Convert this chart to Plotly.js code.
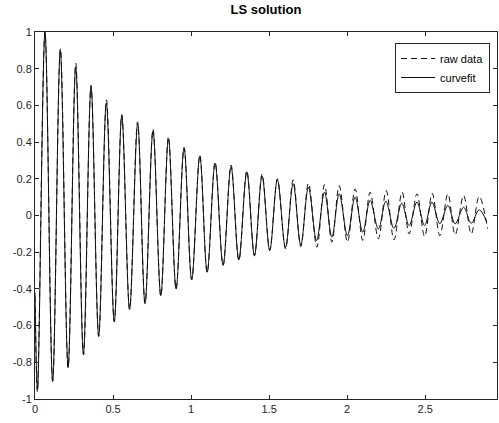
<!DOCTYPE html>
<html>
<head>
<meta charset="utf-8">
<script src="https://cdn.plot.ly/plotly-3.0.1.min.js"></script>
<style>
html,body{margin:0;padding:0;background:#fff;}
#chart{width:499px;height:423px;}
</style>
</head>
<body>
<div id="chart"></div>
<script>
// Curve-fit series: start, then alternating extrema
const tFit = [0, 0.016, 0.064, 0.113, 0.162, 0.212, 0.261, 0.310, 0.359, 0.408, 0.457,
  0.508, 0.556, 0.606, 0.658, 0.705, 0.756, 0.806, 0.855, 0.904, 0.955,
  1.004, 1.056, 1.103, 1.154, 1.205, 1.256, 1.306, 1.357, 1.406, 1.455,
  1.504, 1.553, 1.605, 1.654, 1.703, 1.752, 1.804, 1.855, 1.902, 1.949,
  2.002, 2.051, 2.100, 2.147, 2.200, 2.248, 2.300, 2.350, 2.397, 2.447,
  2.496, 2.543, 2.594, 2.645, 2.692, 2.746, 2.795, 2.846, 2.895];
const yFit = [-0.42, -0.95, 1.00, -0.905, 0.90, -0.827, 0.81, -0.754, 0.70, -0.657, 0.614,
  -0.578, 0.545, -0.512, 0.50, -0.478, 0.46, -0.436, 0.418, -0.40, 0.369,
  -0.35, 0.323, -0.309, 0.285, -0.272, 0.267, -0.242, 0.236, -0.218, 0.216,
  -0.19, 0.195, -0.175, 0.173, -0.16, 0.154, -0.136, 0.127, -0.118, 0.118,
  -0.109, 0.10, -0.091, 0.082, -0.073, 0.078, -0.07, 0.067, -0.055, 0.073,
  -0.055, 0.073, -0.045, 0.055, -0.045, 0.045, -0.042, 0.031, -0.036];

// Raw data series: same sampling of extrema
const tRaw = [0, 0.015, 0.064, 0.113, 0.163, 0.212, 0.261, 0.311, 0.359, 0.408, 0.458,
  0.508, 0.556, 0.606, 0.657, 0.705, 0.756, 0.806, 0.855, 0.904, 0.955,
  1.004, 1.056, 1.103, 1.154, 1.205, 1.256, 1.306, 1.357, 1.406, 1.455,
  1.504, 1.553, 1.605, 1.654, 1.703, 1.752, 1.806, 1.855, 1.902, 1.949,
  2.002, 2.051, 2.100, 2.147, 2.200, 2.250, 2.300, 2.352, 2.397, 2.447,
  2.496, 2.545, 2.594, 2.645, 2.692, 2.746, 2.795, 2.846, 2.900];
const yRaw = [-0.44, -0.96, 1.00, -0.90, 0.91, -0.83, 0.83, -0.76, 0.71, -0.66, 0.63,
  -0.58, 0.55, -0.51, 0.51, -0.48, 0.47, -0.44, 0.43, -0.40, 0.37,
  -0.35, 0.33, -0.31, 0.29, -0.27, 0.275, -0.245, 0.245, -0.22, 0.225,
  -0.19, 0.20, -0.182, 0.195, -0.17, 0.176, -0.173, 0.169, -0.145, 0.163,
  -0.145, 0.145, -0.136, 0.127, -0.127, 0.136, -0.133, 0.127, -0.10, 0.118,
  -0.114, 0.12, -0.11, 0.118, -0.105, 0.109, -0.10, 0.104, -0.073];

const xTickVals = [0, 0.5, 1, 1.5, 2, 2.5];
const xTickText = ['0', '0.5', '1', '1.5', '2', '2.5'];
const yTickVals = [-1, -0.8, -0.6, -0.4, -0.2, 0, 0.2, 0.4, 0.6, 0.8, 1];
const yTickText = ['-1', '-0.8', '-0.6', '-0.4', '-0.2', '0', '0.2', '0.4', '0.6', '0.8', '1'];

const axisColor = '#262626';
const fontFam = '"Liberation Sans", Arial, sans-serif';

const traces = [
  {x: tRaw, y: yRaw, name: 'raw data', type: 'scatter', mode: 'lines',
   line: {color: '#111', width: 1, dash: '6px,4px', shape: 'spline', smoothing: 1}},
  {x: tFit, y: yFit, name: 'curvefit', type: 'scatter', mode: 'lines',
   line: {color: '#111', width: 1, shape: 'spline', smoothing: 1}}
];

const layout = {
  width: 499, height: 423,
  margin: {l: 35, r: 2, t: 32, b: 24},
  paper_bgcolor: '#fff', plot_bgcolor: '#fff',
  font: {family: fontFam, size: 11, color: axisColor},
  title: {text: '<b>LS solution</b>', font: {family: fontFam, size: 13, color: '#000'},
    xref: 'paper', x: 0.5, xanchor: 'center', yref: 'container', y: 0.977, yanchor: 'middle'},
  showlegend: true,
  legend: {x: 0.985, y: 0.97, xanchor: 'right', yanchor: 'top',
    bgcolor: '#fff', bordercolor: axisColor, borderwidth: 1, itemwidth: 34,
    font: {family: fontFam, size: 11, color: '#000'}, tracegroupgap: 0},
  xaxis: {range: [0, 2.96], tickvals: xTickVals, ticktext: xTickText,
    showgrid: false, zeroline: false, showline: true, mirror: 'ticks',
    linecolor: axisColor, linewidth: 1, ticks: 'inside', ticklen: 4, tickcolor: axisColor,
    tickfont: {family: fontFam, size: 11, color: axisColor}},
  yaxis: {range: [-1, 1], tickvals: yTickVals, ticktext: yTickText,
    showgrid: false, zeroline: false, showline: true, mirror: 'ticks',
    linecolor: axisColor, linewidth: 1, ticks: 'inside', ticklen: 4, tickcolor: axisColor,
    tickfont: {family: fontFam, size: 11, color: axisColor}}
};

Plotly.newPlot('chart', traces, layout, {displayModeBar: false, staticPlot: true});
</script>
</body>
</html>
